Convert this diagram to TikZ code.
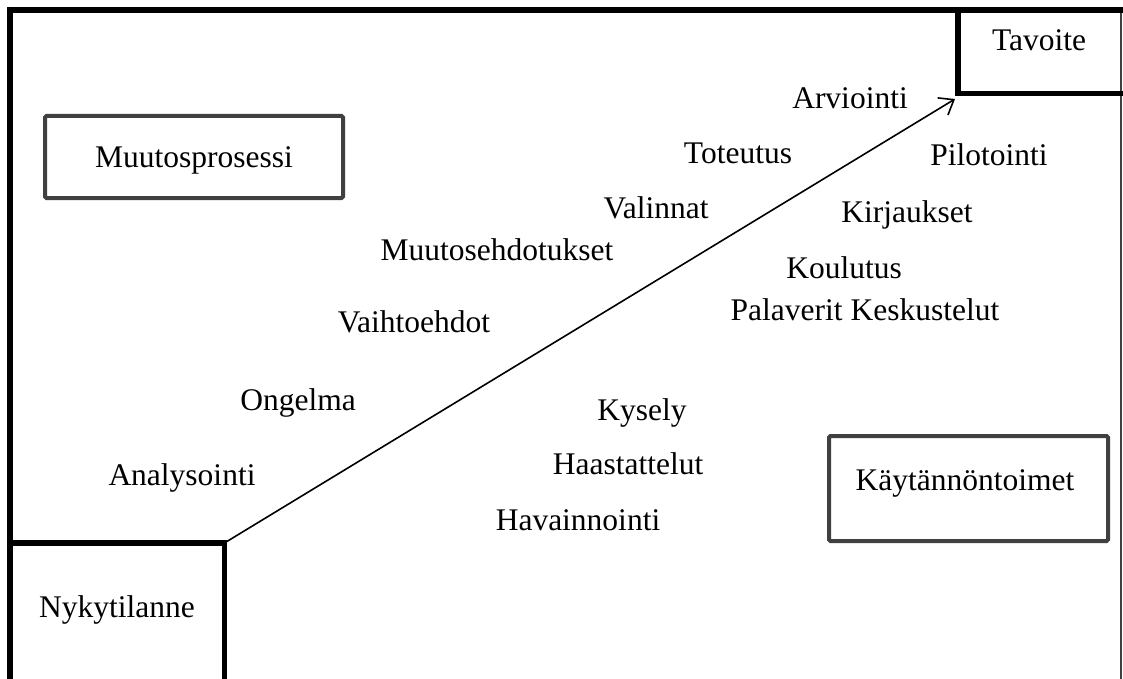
\documentclass[tikz,border=0pt]{standalone}
\usepackage{fontspec}
\setmainfont{Liberation Serif}
\usetikzlibrary{arrows.meta}
\definecolor{boxgrey}{RGB}{64,64,64}
\begin{document}
\begin{tikzpicture}[x=1pt,y=-1pt,
  lbl/.style={font=\fontsize{31.5}{36}\selectfont, inner sep=0pt, yshift=-3pt, execute at begin node=\strut},
  frameline/.style={line width=5.5pt, black},
  edgeline/.style={line width=1.5pt, black!75},
  greybox/.style={draw=boxgrey, line width=4pt, rounded corners=1.5pt, inner sep=0pt},
  cornerbox/.style={inner sep=0pt, anchor=north west},
  flow/.style={line width=1.6pt, -{Straight Barb[length=13pt,width=20pt,line width=1.6pt]}}
]
\useasboundingbox (0,0) rectangle (1123,679);
\clip (0,0) rectangle (1123,679);

% outer frame: heavy top and left edge, light right edge
\draw[edgeline] (1121,10) -- (1121,700);
\draw[frameline] (1130,10) -- (10,10) -- (10,700);

% goal box in the top right corner
\node[cornerbox, minimum width=170, minimum height=83] (tav) at (958,10) {};
\draw[frameline] (tav.north west) -- (tav.south west) -- (tav.south east);
\node[lbl] (tavtxt) at (1039,40) {Tavoite};

% current state box in the bottom left corner
\node[cornerbox, minimum width=214, minimum height=200] (nyk) at (10,543) {};
\draw[frameline] (nyk.north west) -- (nyk.north east) -- (nyk.south east);
\node[lbl] (nyktxt) at (117,607) {Nykytilanne};

% grey category boxes
\node[greybox, minimum width=298, minimum height=82] (muu) at (194,157) {};
\node[lbl] (muutxt) at (194,157) {Muutosprosessi};
\node[greybox, minimum width=279, minimum height=105] (kay) at (968.5,488.5) {};
\node[lbl] (kaytxt) at (965,480) {Käytännöntoimet};

% the path from the current state to the goal
\coordinate (goal) at (955,99);
\draw[flow] (nyk.north east) -- (goal);

% steps of the change process
\node[lbl] (ana) at (182,475) {Analysointi};
\node[lbl] (ong) at (298,400) {Ongelma};
\node[lbl] (vai) at (414,322) {Vaihtoehdot};
\node[lbl] (ehd) at (497,250) {Muutosehdotukset};
\node[lbl] (val) at (656,208) {Valinnat};
\node[lbl] (tot) at (738,153) {Toteutus};
\node[lbl] (arv) at (850,98) {Arviointi};

% practical actions
\node[lbl] (hav) at (578,520) {Havainnointi};
\node[lbl] (haa) at (628,464) {Haastattelut};
\node[lbl] (kys) at (642,410) {Kysely};
\node[lbl] (pal) at (865,310) {Palaverit Keskustelut};
\node[lbl] (kou) at (844,268) {Koulutus};
\node[lbl] (kir) at (907,212) {Kirjaukset};
\node[lbl] (pil) at (989,155) {Pilotointi};
\end{tikzpicture}
\end{document}
